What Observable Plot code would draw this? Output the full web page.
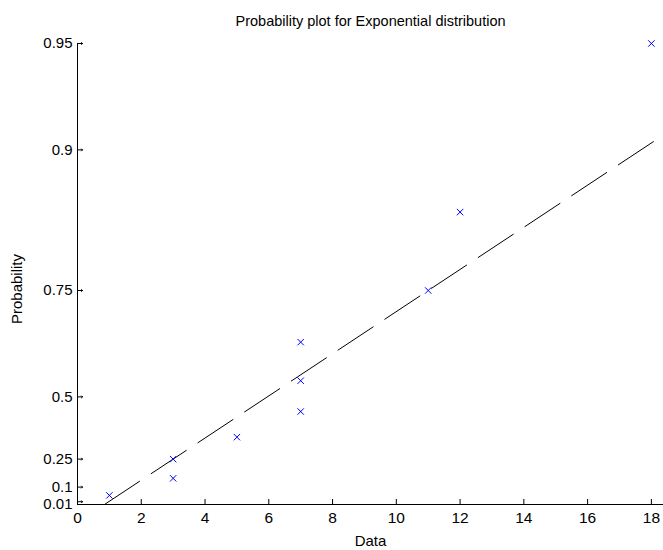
<!DOCTYPE html>
<html><head><meta charset="utf-8">
<script src="https://cdn.jsdelivr.net/npm/d3@7"></script>
<script src="https://cdn.jsdelivr.net/npm/@observablehq/plot@0.6"></script>
<style>body{margin:0;background:#fff}</style>
</head><body><div id="chart"></div>
<script>
const dataValues = [1, 3, 3, 5, 7, 7, 7, 11, 12, 18];
const probTicks = [0.01, 0.1, 0.25, 0.5, 0.75, 0.9, 0.95];
const probTickLabels = ["0.01", "0.1", "0.25", "0.5", "0.75", "0.9", "0.95"];
const xTicks = [0, 2, 4, 6, 8, 10, 12, 14, 16, 18];
const titleText = "Probability plot for Exponential distribution";
const xLabel = "Data";
const yLabel = "Probability";

const tr = p => -Math.log(1 - p);
const sorted = dataValues.slice().sort((a, b) => a - b);
const n = sorted.length;
const points = sorted.map((x, i) => ({x, y: tr((i + 0.5) / n)}));

// MATLAB-style percentile
function prctile(arr, p) {
  const pos = p * n + 0.5; // 1-based
  if (pos <= 1) return arr[0];
  if (pos >= n) return arr[n - 1];
  const lo = Math.floor(pos), f = pos - lo;
  return arr[lo - 1] + f * (arr[lo] - arr[lo - 1]);
}
const q1 = prctile(sorted, 0.25), q3 = prctile(sorted, 0.75);
const slope = (tr(0.75) - tr(0.25)) / (q3 - q1);
const yAt = x => tr(0.25) + slope * (x - q1);
const xAt = y => q1 + (y - tr(0.25)) / slope;

const xDomain = [0, 18.38];
const yDomain = [-0.008, tr(0.95)];
const refLine = [
  {x: xAt(yDomain[0]), y: yDomain[0]},
  {x: xDomain[1], y: yAt(xDomain[1])}
];
const yTickData = probTicks.map((p, i) => ({v: tr(p), label: probTickLabels[i]}));
const yTickMain = yTickData.filter(d => d.label !== "0.01");
const yTickLow = yTickData.filter(d => d.label === "0.01");

const chart = Plot.plot({
  width: 663, height: 550,
  marginLeft: 77, marginRight: 0, marginTop: 43, marginBottom: 46,
  style: {fontFamily: "'Liberation Sans', Arial, sans-serif", fontSize: "15px", color: "#000", background: "#fff", overflow: "visible"},
  x: {domain: xDomain},
  y: {domain: yDomain, axis: null},
  marks: [
    Plot.axisX({ticks: xTicks, tickSize: -5, tickPadding: 12, fontSize: 15.5, label: null}),
    Plot.vector(yTickData, {x: xDomain[0], y: "v", length: 5, rotate: 90, anchor: "start", stroke: "#000", strokeWidth: 1}),
    Plot.text(yTickMain, {x: xDomain[0], y: "v", text: "label", textAnchor: "end", dx: -5, fontSize: 15}),
    Plot.text(yTickLow, {x: xDomain[0], y: "v", text: "label", textAnchor: "end", dx: -5, dy: 2, fontSize: 15}),
    Plot.ruleX([xDomain[0]], {stroke: "#000"}),
    Plot.ruleY([yDomain[0]], {stroke: "#000"}),
    Plot.line(refLine, {x: "x", y: "y", stroke: "#000", strokeWidth: 1, strokeDasharray: "42,14", clip: true}),
    Plot.dot(points, {x: "x", y: "y", symbol: "times", r: 3, stroke: "#0000ff", strokeWidth: 1}),
    Plot.text([titleText], {frameAnchor: "top", dy: -28, fontSize: 14.5}),
    Plot.text([xLabel], {frameAnchor: "bottom", dy: 41, fontSize: 15}),
    Plot.text([yLabel], {frameAnchor: "left", textAnchor: "middle", dx: -60, dy: 15, rotate: -90, fontSize: 15})
  ]
});
document.getElementById("chart").appendChild(chart);
</script>
</body></html>
